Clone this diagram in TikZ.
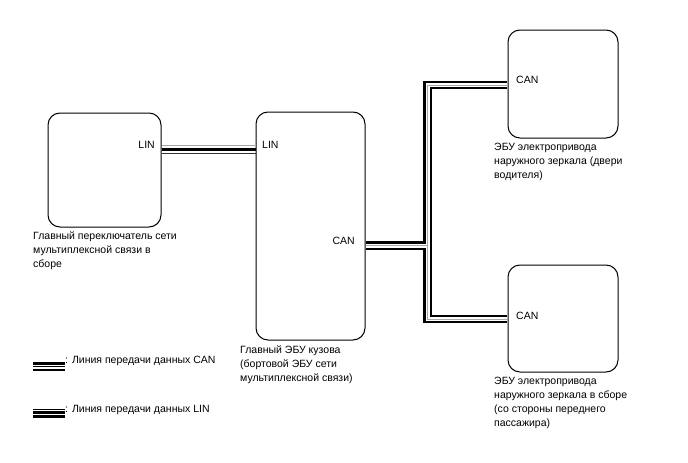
\documentclass[tikz,border=0pt]{standalone}
\usepackage{fontspec}
\setmainfont{Liberation Sans}
\begin{document}
\begin{tikzpicture}[x=1pt,y=-1pt,
  box/.style={draw,line width=1pt,rounded corners=12pt,inner sep=0pt},
  lbl/.style={font=\fontsize{10.5}{14}\selectfont,inner sep=0pt,anchor=north west,align=left},
  port/.style={font=\fontsize{10.5}{12}\selectfont,inner sep=0pt},
  canblack/.style={line width=8.4pt,black},
  canwhite/.style={line width=4pt,white},
  cangray/.style={line width=1pt,gray!70}]
\useasboundingbox (0,0) rectangle (688,463);
% boxes
\node[box,minimum width=113pt,minimum height=114pt] (sw) at (104.5,170) {};
\node[box,minimum width=109pt,minimum height=228pt] (main) at (310.5,226) {};
\node[box,minimum width=110pt,minimum height=108pt] (tr) at (563,84) {};
\node[box,minimum width=110pt,minimum height=107pt] (br) at (563,318.5) {};
% port labels
\node[port,anchor=east] (swlin) at (155,145) {LIN};
\node[port,anchor=west] (mainlin) at (262,145) {LIN};
\node[port,anchor=east] (maincan) at (355,241) {CAN};
\node[port,anchor=west] (trcan) at (516,80) {CAN};
\node[port,anchor=west] (brcan) at (516,316) {CAN};
% LIN line
\draw[gray!70,line width=0.9pt] (sw.east |- 0,145.5) -- (main.west |- 0,145.5);
\draw[black,line width=2.6pt] (sw.east |- 0,149.5) -- (main.west |- 0,149.5);
\draw[gray!40!black,line width=1pt] (sw.east |- 0,153) -- (main.west |- 0,153);
% CAN lines
\coordinate (j) at (427.5,245.5);
\foreach \s in {canblack,canwhite,cangray}{
  \draw[\s] ([xshift=0.5pt]main.east |- j) -- (j);
  \draw[\s] (j) |- ([xshift=-0.5pt]tr.west |- 0,85);
  \draw[\s] (j) |- ([xshift=-0.5pt]br.west |- 0,319);
}
% descriptions
\node[lbl] (swt) at (33,232) {Главный переключатель сети\\мультиплексной связи в\\сборе};
\node[lbl] (maint) at (240,346) {Главный ЭБУ кузова\\(бортовой ЭБУ сети\\мультиплексной связи)};
\node[lbl] (trt) at (494,143) {ЭБУ электропривода\\наружного зеркала (двери\\водителя)};
\node[lbl] (brt) at (494,377) {ЭБУ электропривода\\наружного зеркала в сборе\\(со стороны переднего\\пассажира)};
% legend
\coordinate (lc1) at (33,366);
\draw[black,line width=2.2pt] (lc1) ++(0,-2.5) -- ++(32,0);
\draw[black,line width=0.9pt] (lc1) ++(0,0) -- ++(32,0);
\draw[black,line width=2.2pt] (lc1) ++(0,4) -- ++(32,0);
\node[port,anchor=west] (lct) at (65,361) {: Линия передачи данных CAN};
\coordinate (ll1) at (33,413);
\draw[black,line width=0.9pt] (ll1) ++(0,-4) -- ++(32,0);
\draw[black,line width=2.2pt] (ll1) ++(0,-0.5) -- ++(32,0);
\draw[black,line width=2.2pt] (ll1) ++(0,3.5) -- ++(32,0);
\node[port,anchor=west] (llt) at (65,410) {: Линия передачи данных LIN};
\end{tikzpicture}
\end{document}
